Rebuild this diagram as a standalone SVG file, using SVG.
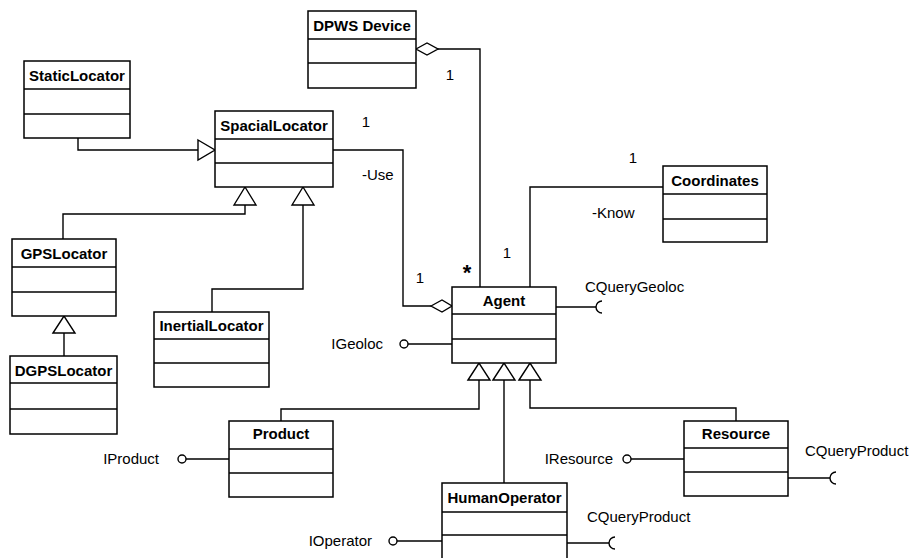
<svg xmlns="http://www.w3.org/2000/svg" width="913" height="558" viewBox="0 0 913 558">
<style>
.box{fill:#fff;stroke:#000;stroke-width:1.5}
.ln{fill:none;stroke:#000;stroke-width:1.4}
.tri{fill:#fff;stroke:#000;stroke-width:1.4}
.t{font-family:"Liberation Sans",Arial,sans-serif;font-size:15px;font-weight:bold;text-anchor:middle;fill:#000}
.l{font-family:"Liberation Sans",Arial,sans-serif;font-size:15px;fill:#000}
</style>
<rect width="913" height="558" fill="#fff"/>
<g id="connectors">
  <!-- StaticLocator -> SpacialLocator -->
  <polyline class="ln" points="78,138 78,150 198,150"/>
  <polygon class="tri" points="198,140 215,150 198,160"/>
  <!-- GPSLocator -> SpacialLocator -->
  <polyline class="ln" points="63,239 63,214 245,214 245,205"/>
  <polygon class="tri" points="234,205 245,187 256,205"/>
  <!-- InertialLocator -> SpacialLocator -->
  <polyline class="ln" points="212,312 212,289 303,289 303,205"/>
  <polygon class="tri" points="292,205 303,187 314,205"/>
  <!-- DGPSLocator -> GPSLocator -->
  <polyline class="ln" points="64,356 64,333"/>
  <polygon class="tri" points="53,333 64,316 75,333"/>
  <!-- DPWS Device <> Agent -->
  <polyline class="ln" points="438,49 480,49 480,287"/>
  <polygon class="tri" points="416,49 427,43 438,49 427,55"/>
  <!-- SpacialLocator - Agent -->
  <polyline class="ln" points="333,150 403,150 403,306 431,306"/>
  <polygon class="tri" points="431,306 442,300 452,306 442,312"/>
  <!-- Agent - Coordinates -->
  <polyline class="ln" points="530,287 530,187 663,187"/>
  <!-- Agent generalizations -->
  <polyline class="ln" points="479,380 479,409 281,409 281,421"/>
  <polyline class="ln" points="504,380 504,483"/>
  <polyline class="ln" points="530,380 530,408 736,408 736,421"/>
  <polygon class="tri" points="468,380 479,363 490,380"/>
  <polygon class="tri" points="493,380 504,363 515,380"/>
  <polygon class="tri" points="519,380 530,363 541,380"/>
  <!-- interfaces -->
  <line class="ln" x1="556" y1="307" x2="596" y2="307"/>
  <path class="ln" d="M602,301 A6,6 0 0 0 602,313"/>
  <line class="ln" x1="408" y1="344" x2="452" y2="344"/>
  <circle class="ln" cx="404" cy="344" r="4"/>
  <line class="ln" x1="186" y1="459" x2="229" y2="459"/>
  <circle class="ln" cx="182" cy="459" r="4"/>
  <line class="ln" x1="631" y1="459" x2="684" y2="459"/>
  <circle class="ln" cx="627" cy="459" r="4"/>
  <line class="ln" x1="788" y1="478" x2="830" y2="478"/>
  <path class="ln" d="M836,472 A6,6 0 0 0 836,484"/>
  <line class="ln" x1="567" y1="543" x2="609" y2="543"/>
  <path class="ln" d="M615,537 A6,6 0 0 0 615,549"/>
  <line class="ln" x1="397" y1="541" x2="442" y2="541"/>
  <circle class="ln" cx="393" cy="541" r="4"/>
</g>
<g id="labels">
  <text class="l" x="450" y="80" text-anchor="middle">1</text>
  <text class="l" x="366" y="127" text-anchor="middle">1</text>
  <text class="l" x="362" y="180">-Use</text>
  <text class="l" x="420" y="283" text-anchor="middle">1</text>
  <text class="l" x="467" y="280" text-anchor="middle" style="font-size:22px;font-weight:bold">*</text>
  <text class="l" x="507" y="258" text-anchor="middle">1</text>
  <text class="l" x="633" y="163" text-anchor="middle">1</text>
  <text class="l" x="592" y="218">-Know</text>
  <text class="l" x="585" y="292">CQueryGeoloc</text>
  <text class="l" x="383" y="349" text-anchor="end">IGeoloc</text>
  <text class="l" x="159" y="464" text-anchor="end">IProduct</text>
  <text class="l" x="613" y="464" text-anchor="end">IResource</text>
  <text class="l" x="805" y="456">CQueryProduct</text>
  <text class="l" x="587" y="522">CQueryProduct</text>
  <text class="l" x="372" y="546" text-anchor="end">IOperator</text>
</g>
<g id="DPWSDevice">
  <rect class="box" x="308" y="11" width="108" height="77"/>
  <line class="ln" x1="308" y1="39" x2="416" y2="39"/><line class="ln" x1="308" y1="63" x2="416" y2="63"/>
  <text class="t" x="362" y="30.5">DPWS Device</text>
</g>
<g id="StaticLocator">
  <rect class="box" x="24" y="61" width="106" height="77"/>
  <line class="ln" x1="24" y1="89" x2="130" y2="89"/><line class="ln" x1="24" y1="114" x2="130" y2="114"/>
  <text class="t" x="77" y="80.5">StaticLocator</text>
</g>
<g id="SpacialLocator">
  <rect class="box" x="215" y="111" width="118" height="76"/>
  <line class="ln" x1="215" y1="139" x2="333" y2="139"/><line class="ln" x1="215" y1="163" x2="333" y2="163"/>
  <text class="t" x="274" y="130.5">SpacialLocator</text>
</g>
<g id="Coordinates">
  <rect class="box" x="663" y="166" width="104" height="76"/>
  <line class="ln" x1="663" y1="194" x2="767" y2="194"/><line class="ln" x1="663" y1="219" x2="767" y2="219"/>
  <text class="t" x="715" y="185.5">Coordinates</text>
</g>
<g id="GPSLocator">
  <rect class="box" x="12" y="239" width="104" height="77"/>
  <line class="ln" x1="12" y1="267" x2="116" y2="267"/><line class="ln" x1="12" y1="292" x2="116" y2="292"/>
  <text class="t" x="64" y="258.5">GPSLocator</text>
</g>
<g id="InertialLocator">
  <rect class="box" x="154" y="312" width="115" height="75"/>
  <line class="ln" x1="154" y1="339" x2="269" y2="339"/><line class="ln" x1="154" y1="363" x2="269" y2="363"/>
  <text class="t" x="211.5" y="330.5">InertialLocator</text>
</g>
<g id="DGPSLocator">
  <rect class="box" x="10" y="356" width="107" height="78"/>
  <line class="ln" x1="10" y1="383" x2="117" y2="383"/><line class="ln" x1="10" y1="409" x2="117" y2="409"/>
  <text class="t" x="63.5" y="375.5">DGPSLocator</text>
</g>
<g id="Agent">
  <rect class="box" x="452" y="287" width="104" height="76"/>
  <line class="ln" x1="452" y1="314" x2="556" y2="314"/><line class="ln" x1="452" y1="339" x2="556" y2="339"/>
  <text class="t" x="504" y="305.5">Agent</text>
</g>
<g id="Product">
  <rect class="box" x="229" y="421" width="104" height="76"/>
  <line class="ln" x1="229" y1="449" x2="333" y2="449"/><line class="ln" x1="229" y1="473" x2="333" y2="473"/>
  <text class="t" x="281" y="438.5">Product</text>
</g>
<g id="Resource">
  <rect class="box" x="684" y="421" width="104" height="75"/>
  <line class="ln" x1="684" y1="448" x2="788" y2="448"/><line class="ln" x1="684" y1="472" x2="788" y2="472"/>
  <text class="t" x="736" y="438.5">Resource</text>
</g>
<g id="HumanOperator">
  <rect class="box" x="442" y="483" width="125" height="80"/>
  <line class="ln" x1="442" y1="512" x2="567" y2="512"/><line class="ln" x1="442" y1="535" x2="567" y2="535"/>
  <text class="t" x="504.5" y="502.5">HumanOperator</text>
</g>
</svg>
